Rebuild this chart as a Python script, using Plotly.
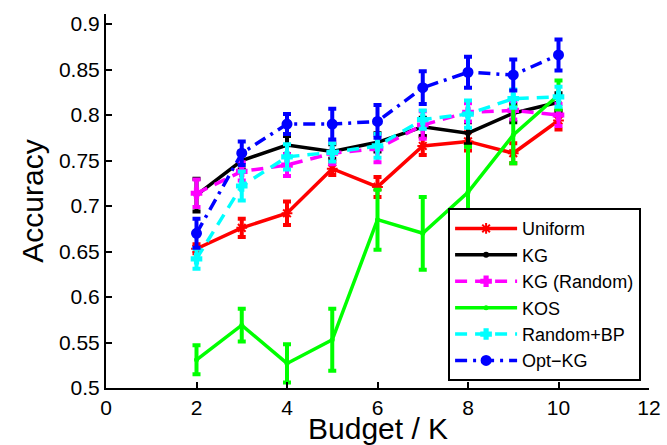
import plotly.graph_objects as go

budget = [2, 3, 4, 5, 6, 7, 8, 9, 10]

uniform = [0.653, 0.676, 0.692, 0.741, 0.721, 0.766, 0.771, 0.758, 0.794]
uniform_err = [0.005, 0.010, 0.013, 0.007, 0.011, 0.010, 0.010, 0.011, 0.010]
kg = [0.712, 0.750, 0.767, 0.760, 0.770, 0.787, 0.780, 0.802, 0.814]
kg_err = [0.018, 0.010, 0.010, 0.008, 0.010, 0.010, 0.012, 0.010, 0.010]
kg_random = [0.714, 0.738, 0.745, 0.758, 0.763, 0.789, 0.803, 0.805, 0.800]
kg_random_err = [0.015, 0.010, 0.012, 0.012, 0.015, 0.015, 0.010, 0.010, 0.012]
kos = [0.531, 0.569, 0.527, 0.553, 0.685, 0.670, 0.715, 0.778, 0.822]
kos_err = [0.016, 0.018, 0.021, 0.034, 0.033, 0.040, 0.050, 0.031, 0.016]
random_bp = [0.642, 0.722, 0.754, 0.759, 0.766, 0.795, 0.801, 0.818, 0.820]
random_bp_err = [0.011, 0.016, 0.014, 0.010, 0.013, 0.010, 0.015, 0.010, 0.011]
opt_kg = [0.670, 0.758, 0.790, 0.790, 0.793, 0.830, 0.847, 0.844, 0.866]
opt_kg_err = [0.016, 0.013, 0.011, 0.017, 0.018, 0.018, 0.017, 0.017, 0.017]

y_ticks = [0.5, 0.55, 0.6, 0.65, 0.7, 0.75, 0.8, 0.85, 0.9]
y_tick_text = ["0.5", "0.55", "0.6", "0.65", "0.7", "0.75", "0.8", "0.85", "0.9"]
x_ticks = [0, 2, 4, 6, 8, 10, 12]

series = [
    ("Uniform", uniform, uniform_err, "#ff0000", "solid", "asterisk-open", 9),
    ("KG", kg, kg_err, "#000000", "solid", "circle", 4),
    ("KG (Random)", kg_random, kg_random_err, "#ff00ff", "12px,8px", "cross", 8),
    ("KOS", kos, kos_err, "#00ff00", "solid", "circle", 3),
    ("Random+BP", random_bp, random_bp_err, "#00ffff", "12px,8px", "cross", 8),
    ("Opt\u2212KG", opt_kg, opt_kg_err, "#0000ff", "12px,6px,3px,6px", "circle", 9),
]

fig = go.Figure()
for name, vals, errs, color, dash, sym, msize in series:
    fig.add_trace(go.Scatter(
        x=budget, y=vals, name=name, mode="lines+markers",
        line=dict(color=color, width=3.5, dash=dash),
        marker=dict(symbol=sym, size=msize, color=color,
                    line=dict(color=color, width=2)),
        error_y=dict(type="data", array=errs, visible=True,
                     color=color, thickness=4, width=4),
    ))

fam = "Liberation Sans, Arial, sans-serif"
axis_font = dict(family=fam, size=21, color="#000000")

fig.update_layout(
    width=667, height=445,
    margin=dict(l=106, r=18, t=14, b=57),
    paper_bgcolor="white", plot_bgcolor="white",
    showlegend=True,
    legend=dict(
        x=0.63, y=0.018, xanchor="left", yanchor="bottom",
        bgcolor="white", bordercolor="#000000", borderwidth=2,
        font=dict(family=fam, size=18, color="#000000"),
        tracegroupgap=0, itemwidth=62,
    ),
    xaxis=dict(
        range=[0, 12], tickvals=x_ticks, ticks="inside", ticklen=6,
        tickwidth=1.5, tickcolor="#000000", automargin=False,
        showline=True, linecolor="#000000", linewidth=2,
        showgrid=False, zeroline=False, tickfont=axis_font,
    ),
    yaxis=dict(
        range=[0.5, 0.911], tickvals=y_ticks, ticktext=y_tick_text,
        ticks="inside", ticklen=6, tickwidth=1.5, tickcolor="#000000",
        showline=True, linecolor="#000000", linewidth=2, automargin=False,
        showgrid=False, zeroline=False, tickfont=axis_font,
        title=dict(text="Accuracy", standoff=6,
                   font=dict(family=fam, size=30, color="#000000")),
    ),
    annotations=[dict(
        text="Budget / K", xref="paper", yref="paper", x=0.5, y=-0.06,
        xanchor="center", yanchor="top", showarrow=False,
        font=dict(family=fam, size=30, color="#000000"),
    )],
)

fig.write_html("out.html")
